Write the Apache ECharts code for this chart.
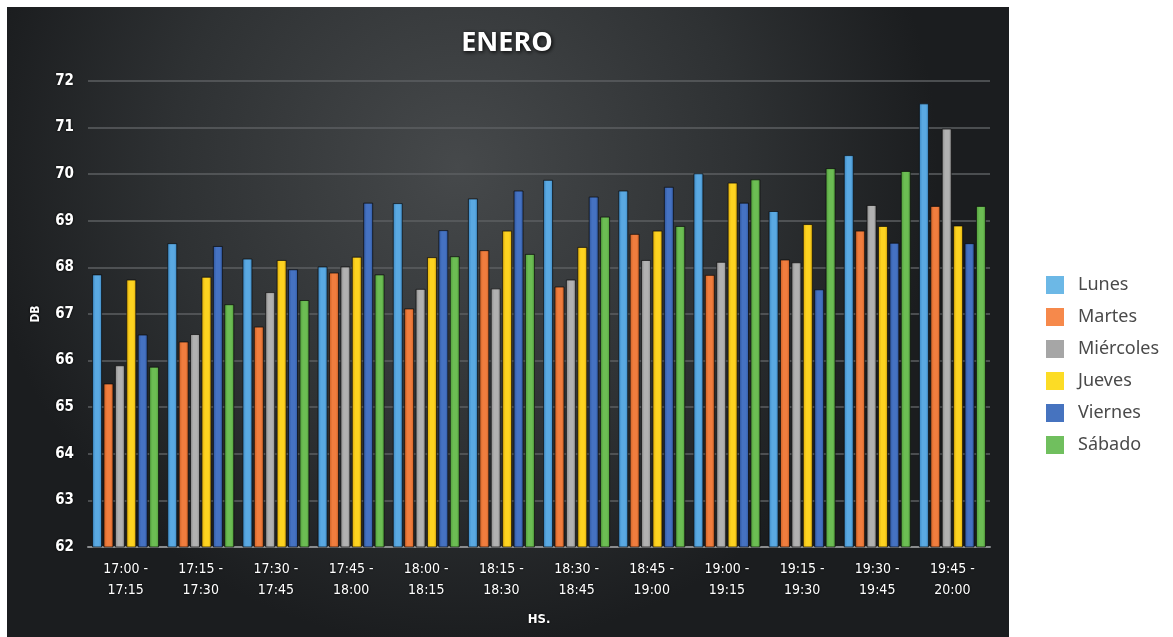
<!DOCTYPE html>
<html>
<head>
<meta charset="utf-8">
<script src="https://cdn.jsdelivr.net/npm/echarts@6/dist/echarts.min.js"></script>
<style>html,body{margin:0;padding:0;background:#fff}#c{width:1173px;height:637px}</style>
</head>
<body>
<div id="c"></div>
<script>
var categories = ['17:00 -\n17:15','17:15 -\n17:30','17:30 -\n17:45','17:45 -\n18:00','18:00 -\n18:15','18:15 -\n18:30','18:30 -\n18:45','18:45 -\n19:00','19:00 -\n19:15','19:15 -\n19:30','19:30 -\n19:45','19:45 -\n20:00'];
var seriesNames = ['Lunes','Martes','Miércoles','Jueves','Viernes','Sábado'];
var lunes     = [67.85, 68.52, 68.19, 68.02, 69.38, 69.48, 69.88, 69.65, 70.02, 69.21, 70.41, 71.52];
var martes    = [65.51, 66.41, 66.73, 67.89, 67.12, 68.37, 67.59, 68.72, 67.84, 68.17, 68.79, 69.32];
var miercoles = [65.90, 66.57, 67.47, 68.02, 67.54, 67.55, 67.74, 68.16, 68.12, 68.11, 69.34, 70.98];
var jueves    = [67.74, 67.80, 68.16, 68.23, 68.22, 68.79, 68.44, 68.79, 69.82, 68.93, 68.89, 68.90];
var viernes   = [66.56, 68.46, 67.96, 69.39, 68.80, 69.65, 69.52, 69.73, 69.39, 67.53, 68.53, 68.52];
var sabado    = [65.87, 67.21, 67.30, 67.85, 68.24, 68.29, 69.09, 68.89, 69.89, 70.13, 70.07, 69.32];
var yTicks = [62, 72, 1];

var allData = [lunes, martes, miercoles, jueves, viernes, sabado];
var barColors = ['#5aa9e2','#f07d3e','#b1b1b1','#fdd320','#4572c2','#6cbd53'];
var darkColors = ['#3b86c0','#c95e22','#8a8a8a','#dba80a','#2e559c','#4e9a39'];
var legendColors = ['#6cb8e6','#f6894b','#a6a6a6','#fcdc25','#4673bf','#70bf5e'];

var chart = echarts.init(document.getElementById('c'));
var font = "'Liberation Sans Narrow','DejaVu Sans Condensed','Open Sans',sans-serif";
var series = seriesNames.map(function (n, i) {
  return {
    name: n,
    type: 'bar',
    data: allData[i],
    barWidth: 10,
    barGap: '14%',
    itemStyle: {
      color: new echarts.graphic.LinearGradient(0, 0, 1, 0, [
        {offset: 0, color: darkColors[i]},
        {offset: 0.35, color: barColors[i]},
        {offset: 0.7, color: barColors[i]},
        {offset: 1, color: darkColors[i]}
      ]),
      borderColor: 'rgba(10,10,10,0.7)',
      borderWidth: 1
    }
  };
});

chart.setOption({
  backgroundColor: '#ffffff',
  animation: false,
  graphic: [{
    type: 'rect',
    z: -10,
    shape: {x: 7, y: 7, width: 1002, height: 640},
    style: {
      fill: new echarts.graphic.RadialGradient(0.45, 0.25, 0.75, [
        {offset: 0, color: '#46494b'},
        {offset: 0.6, color: '#2e3133'},
        {offset: 1, color: '#1b1d1f'}
      ])
    }
  }],
  title: {
    text: 'ENERO',
    left: 502,
    top: 25,
    textAlign: 'center',
    textStyle: {
      color: '#ffffff',
      fontFamily: "'Open Sans','DejaVu Sans',sans-serif",
      fontWeight: 'bold',
      fontSize: 27,
      textShadowColor: '#000',
      textShadowBlur: 4,
      textShadowOffsetX: 1,
      textShadowOffsetY: 1
    }
  },
  legend: {
    orient: 'vertical',
    left: 1046,
    top: 276,
    padding: 0,
    itemWidth: 18,
    itemHeight: 18,
    itemGap: 14,
    icon: 'rect',
    data: seriesNames.map(function (n, i) { return {name: n, itemStyle: {color: legendColors[i], borderWidth: 0}}; }),
    textStyle: {color: '#4a4a4a', fontSize: 18, fontFamily: "'Noto Sans','Lato',sans-serif", padding: [0, 0, 0, 9]}
  },
  grid: {left: 88, right: 183, top: 81, bottom: 90},
  xAxis: {
    type: 'category',
    data: categories,
    name: 'HS.',
    nameLocation: 'middle',
    nameGap: 66,
    nameTextStyle: {color: '#fff', fontWeight: 'bold', fontSize: 13, fontFamily: font, textShadowColor: '#000', textShadowBlur: 3},
    axisLine: {lineStyle: {color: '#8a8c8e', width: 2}},
    axisTick: {show: false},
    axisLabel: {
      color: '#fff', fontSize: 14, fontFamily: font, lineHeight: 21, margin: 12, interval: 0,
      textShadowColor: '#000', textShadowBlur: 3
    },
    splitLine: {show: false}
  },
  yAxis: {
    type: 'value',
    min: yTicks[0],
    max: yTicks[1],
    interval: yTicks[2],
    name: 'DB',
    nameLocation: 'middle',
    nameGap: 46,
    nameTextStyle: {color: '#fff', fontWeight: 'bold', fontSize: 12, fontFamily: font, textShadowColor: '#000', textShadowBlur: 3},
    axisLine: {show: false},
    axisTick: {show: false},
    axisLabel: {color: '#fff', fontSize: 15, fontWeight: 'bold', fontFamily: font, margin: 14, textShadowColor: '#000', textShadowBlur: 3},
    splitLine: {lineStyle: {color: '#5c5f62', width: 1.5}}
  },
  series: series
});
</script>
</body>
</html>
